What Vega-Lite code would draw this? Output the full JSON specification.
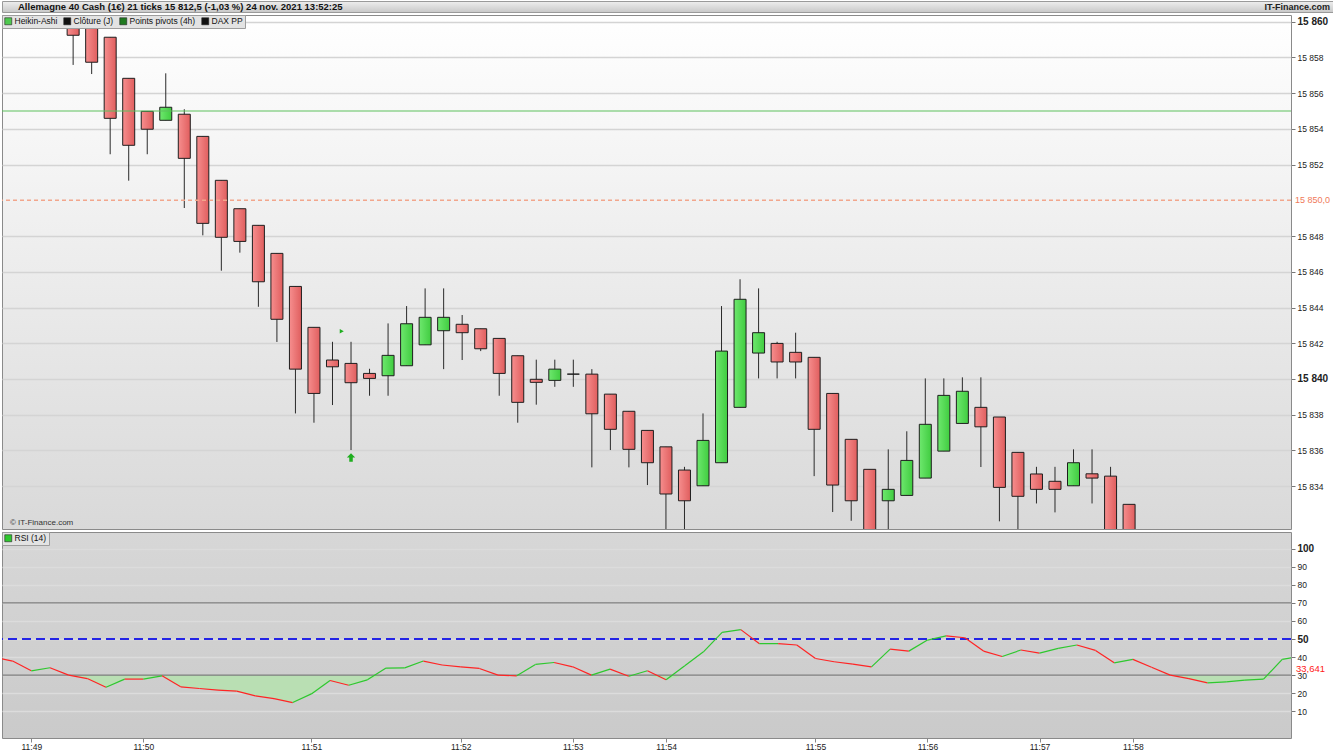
{
  "$schema": "https://vega.github.io/schema/vega-lite/v6.json",
  "padding": 0,
  "background": "#ffffff",
  "spacing": 1,
  "config": {
    "font": "Liberation Sans",
    "view": {"stroke": "#8a8a8a"},
    "legend": {
      "orient": "top-left",
      "direction": "horizontal",
      "fillColor": "#e3e3e3",
      "strokeColor": "#9d9d9d",
      "padding": 2,
      "offset": 0,
      "symbolType": "square",
      "symbolSize": 49,
      "symbolStrokeColor": "#222222",
      "symbolStrokeWidth": 0.6,
      "symbolOpacity": 1,
      "labelFontSize": 8.5,
      "labelColor": "#111111",
      "columnPadding": 4,
      "labelOffset": 2
    }
  },
  "resolve": {
    "scale": {"x": "independent", "y": "independent", "fill": "independent"},
    "legend": {"fill": "independent"}
  },
  "datasets": {
    "candles": [
      {"i": 0, "open": 15861.5, "close": 15861.0, "high": 15862.0, "low": 15859.6},
      {"i": 1, "open": 15861.2, "close": 15860.3, "high": 15861.8, "low": 15859.9},
      {"i": 2, "open": 15860.6, "close": 15859.24, "high": 15860.6, "low": 15857.58},
      {"i": 3, "open": 15859.9, "close": 15857.73, "high": 15859.9, "low": 15857.07},
      {"i": 4, "open": 15859.13, "close": 15854.59, "high": 15859.13, "low": 15852.58},
      {"i": 5, "open": 15856.83, "close": 15853.08, "high": 15856.83, "low": 15851.1},
      {"i": 6, "open": 15854.98, "close": 15853.98, "high": 15854.98, "low": 15852.58},
      {"i": 7, "open": 15854.48, "close": 15855.21, "high": 15857.11, "low": 15854.48},
      {"i": 8, "open": 15854.82, "close": 15852.35, "high": 15855.1, "low": 15849.57},
      {"i": 9, "open": 15853.58, "close": 15848.71, "high": 15853.58, "low": 15848.04},
      {"i": 10, "open": 15851.12, "close": 15847.93, "high": 15851.12, "low": 15846.06},
      {"i": 11, "open": 15849.53, "close": 15847.7, "high": 15849.53, "low": 15847.07},
      {"i": 12, "open": 15848.6, "close": 15845.44, "high": 15848.6, "low": 15844.04},
      {"i": 13, "open": 15847.03, "close": 15843.34, "high": 15847.03, "low": 15842.07},
      {"i": 14, "open": 15845.18, "close": 15840.55, "high": 15845.18, "low": 15838.07},
      {"i": 15, "open": 15842.89, "close": 15839.19, "high": 15842.89, "low": 15837.55},
      {"i": 16, "open": 15841.06, "close": 15840.68, "high": 15842.08, "low": 15838.54},
      {"i": 17, "open": 15840.87, "close": 15839.79, "high": 15842.08, "low": 15836.02},
      {"i": 18, "open": 15840.31, "close": 15840.03, "high": 15840.57, "low": 15839.06},
      {"i": 19, "open": 15840.18, "close": 15841.32, "high": 15843.11, "low": 15839.06},
      {"i": 20, "open": 15840.74, "close": 15843.09, "high": 15844.08, "low": 15840.74},
      {"i": 21, "open": 15841.91, "close": 15843.45, "high": 15845.07, "low": 15841.91},
      {"i": 22, "open": 15842.7, "close": 15843.45, "high": 15845.07, "low": 15840.55},
      {"i": 23, "open": 15843.06, "close": 15842.59, "high": 15843.58, "low": 15841.06},
      {"i": 24, "open": 15842.81, "close": 15841.69, "high": 15842.81, "low": 15841.56},
      {"i": 25, "open": 15842.27, "close": 15840.31, "high": 15842.27, "low": 15839.06},
      {"i": 26, "open": 15841.3, "close": 15838.69, "high": 15841.3, "low": 15837.55},
      {"i": 27, "open": 15839.98, "close": 15839.81, "high": 15841.08, "low": 15838.56},
      {"i": 28, "open": 15839.92, "close": 15840.55, "high": 15841.08, "low": 15839.56},
      {"i": 29, "open": 15840.27, "close": 15840.27, "high": 15841.08, "low": 15839.56},
      {"i": 30, "open": 15840.27, "close": 15838.05, "high": 15840.55, "low": 15835.05},
      {"i": 31, "open": 15839.15, "close": 15837.18, "high": 15839.15, "low": 15836.02},
      {"i": 32, "open": 15838.19, "close": 15836.06, "high": 15838.19, "low": 15835.05},
      {"i": 33, "open": 15837.12, "close": 15835.31, "high": 15837.12, "low": 15834.06},
      {"i": 34, "open": 15836.2, "close": 15833.56, "high": 15836.2, "low": 15831.3},
      {"i": 35, "open": 15834.9, "close": 15833.18, "high": 15835.08, "low": 15831.3},
      {"i": 36, "open": 15834.02, "close": 15836.56, "high": 15838.07, "low": 15834.02},
      {"i": 37, "open": 15835.31, "close": 15841.56, "high": 15844.08, "low": 15835.31},
      {"i": 38, "open": 15838.41, "close": 15844.46, "high": 15845.58, "low": 15838.41},
      {"i": 39, "open": 15841.45, "close": 15842.59, "high": 15845.07, "low": 15840.03},
      {"i": 40, "open": 15841.99, "close": 15840.95, "high": 15842.08, "low": 15840.03},
      {"i": 41, "open": 15841.49, "close": 15840.95, "high": 15842.59, "low": 15840.03},
      {"i": 42, "open": 15841.21, "close": 15837.18, "high": 15841.21, "low": 15834.56},
      {"i": 43, "open": 15839.19, "close": 15834.06, "high": 15839.19, "low": 15832.55},
      {"i": 44, "open": 15836.62, "close": 15833.18, "high": 15836.62, "low": 15832.06},
      {"i": 45, "open": 15834.94, "close": 15831.2, "high": 15834.94, "low": 15830.8},
      {"i": 46, "open": 15833.18, "close": 15833.82, "high": 15836.06, "low": 15831.3},
      {"i": 47, "open": 15833.48, "close": 15835.44, "high": 15837.07, "low": 15833.48},
      {"i": 48, "open": 15834.45, "close": 15837.46, "high": 15840.03, "low": 15834.45},
      {"i": 49, "open": 15835.96, "close": 15839.08, "high": 15840.03, "low": 15835.96},
      {"i": 50, "open": 15837.51, "close": 15839.31, "high": 15840.09, "low": 15837.51},
      {"i": 51, "open": 15838.41, "close": 15837.32, "high": 15840.09, "low": 15835.07},
      {"i": 52, "open": 15837.87, "close": 15833.93, "high": 15837.87, "low": 15832.03},
      {"i": 53, "open": 15835.89, "close": 15833.43, "high": 15835.89, "low": 15831.3},
      {"i": 54, "open": 15834.68, "close": 15833.82, "high": 15835.08, "low": 15833.03},
      {"i": 55, "open": 15834.27, "close": 15833.82, "high": 15835.08, "low": 15832.53},
      {"i": 56, "open": 15834.02, "close": 15835.31, "high": 15836.06, "low": 15834.02},
      {"i": 57, "open": 15834.69, "close": 15834.45, "high": 15836.06, "low": 15833.03},
      {"i": 58, "open": 15834.56, "close": 15830.5, "high": 15835.08, "low": 15829.0},
      {"i": 59, "open": 15832.98, "close": 15829.0, "high": 15832.98, "low": 15826.0}
    ],
    "rsi": [
      {"i": -2, "rsi": 39.8}, {"i": -1, "rsi": 37.8}, {"i": 0, "rsi": 32.4}, {"i": 1, "rsi": 34.1},
      {"i": 2, "rsi": 30.0}, {"i": 3, "rsi": 28.1}, {"i": 4, "rsi": 23.3}, {"i": 5, "rsi": 27.8},
      {"i": 6, "rsi": 27.8}, {"i": 7, "rsi": 29.6}, {"i": 8, "rsi": 23.5}, {"i": 9, "rsi": 22.6},
      {"i": 10, "rsi": 21.7}, {"i": 11, "rsi": 21.1}, {"i": 12, "rsi": 18.5}, {"i": 13, "rsi": 17.0},
      {"i": 14, "rsi": 14.8}, {"i": 15, "rsi": 19.6}, {"i": 16, "rsi": 27.0}, {"i": 17, "rsi": 24.4},
      {"i": 18, "rsi": 27.4}, {"i": 19, "rsi": 33.9}, {"i": 20, "rsi": 34.0}, {"i": 21, "rsi": 37.8},
      {"i": 22, "rsi": 35.6}, {"i": 23, "rsi": 34.6}, {"i": 24, "rsi": 33.7}, {"i": 25, "rsi": 30.0},
      {"i": 26, "rsi": 29.6}, {"i": 27, "rsi": 35.9}, {"i": 28, "rsi": 37.0}, {"i": 29, "rsi": 34.6},
      {"i": 30, "rsi": 30.0}, {"i": 31, "rsi": 33.3}, {"i": 32, "rsi": 29.4}, {"i": 33, "rsi": 32.4},
      {"i": 34, "rsi": 27.4}, {"i": 35, "rsi": 35.2}, {"i": 36, "rsi": 42.9}, {"i": 37, "rsi": 53.7},
      {"i": 38, "rsi": 55.2}, {"i": 39, "rsi": 47.4}, {"i": 40, "rsi": 47.5}, {"i": 41, "rsi": 46.7},
      {"i": 42, "rsi": 39.2}, {"i": 43, "rsi": 37.4}, {"i": 44, "rsi": 36.1}, {"i": 45, "rsi": 34.6},
      {"i": 46, "rsi": 44.4}, {"i": 47, "rsi": 43.3}, {"i": 48, "rsi": 49.4}, {"i": 49, "rsi": 51.7},
      {"i": 50, "rsi": 50.7}, {"i": 51, "rsi": 43.3}, {"i": 52, "rsi": 40.3}, {"i": 53, "rsi": 43.9},
      {"i": 54, "rsi": 42.2}, {"i": 55, "rsi": 44.8}, {"i": 56, "rsi": 46.7}, {"i": 57, "rsi": 43.7},
      {"i": 58, "rsi": 36.8}, {"i": 59, "rsi": 38.7}, {"i": 60, "rsi": 34.4}, {"i": 61, "rsi": 30.0},
      {"i": 62, "rsi": 28.1}, {"i": 63, "rsi": 25.7}, {"i": 64, "rsi": 26.3}, {"i": 65, "rsi": 27.2},
      {"i": 66, "rsi": 27.8}, {"i": 67, "rsi": 38.7}, {"i": 68, "rsi": 40.5}
    ]
  },
  "vconcat": [
    {
      "width": 1331,
      "height": 11,
      "view": {
        "fill": {"gradient": "linear", "x1": 0, "y1": 0, "x2": 0, "y2": 1,
          "stops": [{"offset": 0, "color": "#eeeeee"}, {"offset": 1, "color": "#c8c8c8"}]},
        "stroke": "#9a9a9a"
      },
      "layer": [
        {
          "data": {"values": [{"t": "Allemagne 40 Cash (1€) 21 ticks 15 812,5 (-1,03 %) 24 nov. 2021 13:52:25"}]},
          "mark": {"type": "text", "align": "left", "baseline": "middle", "dx": 16, "fontSize": 9.5, "fontWeight": "bold", "color": "#111111"},
          "encoding": {
            "x": {"datum": 0, "type": "quantitative", "scale": {"domain": [0, 1]}, "axis": null},
            "text": {"field": "t"}
          }
        },
        {
          "data": {"values": [{"t": "IT-Finance.com"}]},
          "mark": {"type": "text", "align": "right", "baseline": "middle", "dx": -3, "fontSize": 9, "fontWeight": "bold", "color": "#222222"},
          "encoding": {
            "x": {"datum": 1, "type": "quantitative", "scale": {"domain": [0, 1]}, "axis": null},
            "text": {"field": "t"}
          }
        }
      ]
    },
    {
      "width": 1289,
      "height": 514,
      "view": {
        "fill": {"gradient": "linear", "x1": 0, "y1": 0, "x2": 0, "y2": 1,
          "stops": [{"offset": 0, "color": "#ffffff"}, {"offset": 1, "color": "#d9d9d9"}]},
        "stroke": "#8a8a8a"
      },
      "resolve": {"scale": {"y": "independent"}},
      "layer": [
        {
          "data": {"name": "candles"},
          "mark": {"type": "rule", "color": "#2a2a2a", "strokeWidth": 1, "clip": true},
          "encoding": {
            "x": {"field": "i", "type": "quantitative", "scale": {"domain": [-1.57, 67.47], "nice": false, "zero": false}, "axis": null},
            "y": {
              "field": "low", "type": "quantitative", "title": null,
              "scale": {"domain": [15831.6, 15860.375], "nice": false, "zero": false},
              "axis": {
                "orient": "right",
                "values": [15834, 15836, 15838, 15840, 15842, 15844, 15846, 15848, 15852, 15854, 15856, 15858, 15860],
                "labelExpr": "replace(format(datum.value, ',d'), ',', ' ')",
                "labelFontSize": {"condition": {"test": "datum.value % 20 === 0", "value": 10}, "value": 8.5},
                "labelFontWeight": {"condition": {"test": "datum.value % 20 === 0", "value": "bold"}, "value": "normal"},
                "labelColor": "#222222",
                "labelPadding": 2,
                "labelOverlap": false,
                "tickSize": 4,
                "tickColor": "#777777",
                "domain": false,
                "grid": true,
                "gridColor": "#d4d4d4",
                "gridWidth": 1.5
              }
            },
            "y2": {"field": "high"}
          }
        },
        {
          "data": {"name": "candles"},
          "mark": {"type": "bar", "size": 12, "stroke": "#1e1e1e", "strokeWidth": 1, "clip": true},
          "encoding": {
            "x": {"field": "i", "type": "quantitative", "scale": {"domain": [-1.57, 67.47], "nice": false, "zero": false}, "axis": null},
            "y": {"field": "open", "type": "quantitative", "title": null, "scale": {"domain": [15831.6, 15860.375], "nice": false, "zero": false}, "axis": null},
            "y2": {"field": "close"},
            "fill": {
              "condition": {"test": "datum.close >= datum.open", "value": {"gradient": "linear", "x1": 0, "y1": 0, "x2": 1, "y2": 0, "stops": [{"offset": 0, "color": "#6ee86e"}, {"offset": 1, "color": "#40cc40"}]}},
              "value": {"gradient": "linear", "x1": 0, "y1": 0, "x2": 1, "y2": 0, "stops": [{"offset": 0, "color": "#f68e8e"}, {"offset": 1, "color": "#e05e5e"}]}
            }
          }
        },
        {
          "data": {"values": [{"level": 15855.0}]},
          "mark": {"type": "rule", "color": "#5cbf5c", "strokeWidth": 1.2},
          "encoding": {
            "y": {"field": "level", "type": "quantitative", "title": null, "scale": {"domain": [15831.6, 15860.375], "nice": false, "zero": false}, "axis": null}
          }
        },
        {
          "data": {"values": [{"level": 15850.0}]},
          "mark": {"type": "rule", "color": "#f2a68c", "strokeWidth": 1.5, "strokeDash": [4, 3]},
          "encoding": {
            "y": {"field": "level", "type": "quantitative", "title": null, "scale": {"domain": [15831.6, 15860.375], "nice": false, "zero": false}, "axis": null}
          }
        },
        {
          "data": {"values": [{"level": 15850.0, "label": "15 850,0"}]},
          "mark": {"type": "text", "align": "left", "baseline": "middle", "dx": 4, "fontSize": 9, "color": "#f07a5a"},
          "encoding": {
            "x": {"value": "width"},
            "y": {"field": "level", "type": "quantitative", "title": null, "scale": {"domain": [15831.6, 15860.375], "nice": false, "zero": false}, "axis": null},
            "text": {"field": "label"}
          }
        },
        {
          "data": {"values": [{"i": 17, "price": 15835.6}]},
          "mark": {"type": "point", "shape": "M0,-1L1,0L0.42,0L0.42,1L-0.42,1L-0.42,0L-1,0Z", "filled": true, "size": 70, "color": "#1fae1f", "opacity": 1},
          "encoding": {
            "x": {"field": "i", "type": "quantitative", "scale": {"domain": [-1.57, 67.47], "nice": false, "zero": false}, "axis": null},
            "y": {"field": "price", "type": "quantitative", "title": null, "scale": {"domain": [15831.6, 15860.375], "nice": false, "zero": false}, "axis": null}
          }
        },
        {
          "data": {"values": [{"i": 16.5, "price": 15842.67}]},
          "mark": {"type": "point", "shape": "triangle-right", "filled": true, "size": 22, "color": "#1fae1f", "opacity": 1},
          "encoding": {
            "x": {"field": "i", "type": "quantitative", "scale": {"domain": [-1.57, 67.47], "nice": false, "zero": false}, "axis": null},
            "y": {"field": "price", "type": "quantitative", "title": null, "scale": {"domain": [15831.6, 15860.375], "nice": false, "zero": false}, "axis": null}
          }
        },
        {
          "data": {"values": [{"t": "© IT-Finance.com"}]},
          "mark": {"type": "text", "align": "left", "baseline": "middle", "dx": 3, "fontSize": 8, "color": "#333333"},
          "encoding": {
            "x": {"datum": -1.57, "type": "quantitative", "scale": {"domain": [-1.57, 67.47], "nice": false, "zero": false}, "axis": null},
            "y": {"datum": 15831.93, "type": "quantitative", "title": null, "scale": {"domain": [15831.6, 15860.375], "nice": false, "zero": false}, "axis": null},
            "text": {"field": "t"}
          }
        },
        {
          "data": {"values": [{"s": "Heikin-Ashi"}, {"s": "Clôture (J)"}, {"s": "Points pivots (4h)"}, {"s": "DAX PP"}]},
          "mark": {"type": "point", "filled": true, "opacity": 0},
          "encoding": {
            "fill": {
              "field": "s", "type": "nominal",
              "scale": {"domain": ["Heikin-Ashi", "Clôture (J)", "Points pivots (4h)", "DAX PP"], "range": ["#4fc94f", "#111111", "#1f7a1f", "#111111"]},
              "legend": {"title": null}
            }
          }
        }
      ]
    },
    {
      "width": 1289,
      "height": 206,
      "view": {
        "fill": {"gradient": "linear", "x1": 0, "y1": 0, "x2": 0, "y2": 1,
          "stops": [{"offset": 0, "color": "#d7d7d7"}, {"offset": 1, "color": "#cacaca"}]},
        "stroke": "#8a8a8a"
      },
      "resolve": {"scale": {"y": "independent"}},
      "layer": [
        {
          "data": {"name": "rsi"},
          "mark": {"type": "area", "color": "#b9dfb3", "opacity": 1, "clip": true},
          "encoding": {
            "x": {"field": "i", "type": "quantitative", "scale": {"domain": [-1.57, 67.47], "nice": false, "zero": false}},
            "y": {
              "field": "rsi", "type": "quantitative", "title": null,
              "scale": {"domain": [-4.83, 30], "range": [206, 143.12], "clamp": true, "nice": false, "zero": false},
              "axis": null
            },
            "y2": {"datum": 30}
          }
        },
        {
          "data": {"values": [{"v": 70}, {"v": 30}]},
          "mark": {"type": "rule", "color": "#7c7c7c", "strokeWidth": 1.2},
          "encoding": {
            "y": {"field": "v", "type": "quantitative", "title": null, "scale": {"domain": [-4.83, 109.28], "nice": false, "zero": false}, "axis": null}
          }
        },
        {
          "data": {"values": [{"v": 50}]},
          "mark": {"type": "rule", "color": "#2424e6", "strokeWidth": 2, "strokeDash": [9, 5]},
          "encoding": {
            "y": {"field": "v", "type": "quantitative", "title": null, "scale": {"domain": [-4.83, 109.28], "nice": false, "zero": false}, "axis": null}
          }
        },
        {
          "data": {"name": "rsi"},
          "transform": [
            {"window": [{"op": "lead", "field": "rsi", "as": "rsi_next"}, {"op": "lead", "field": "i", "as": "i_next"}], "sort": [{"field": "i"}]},
            {"filter": "datum.rsi_next != null"}
          ],
          "mark": {"type": "rule", "strokeWidth": 1.2, "clip": true},
          "encoding": {
            "x": {
              "field": "i", "type": "quantitative", "title": null,
              "scale": {"domain": [-1.57, 67.47], "nice": false, "zero": false},
              "axis": {
                "values": [0, 6, 15, 23, 29, 34, 42, 48, 54, 59],
                "labelExpr": "['11:49','11:50','11:51','11:52','11:53','11:54','11:55','11:56','11:57','11:58'][indexof([0,6,15,23,29,34,42,48,54,59], datum.value)]",
                "labelFontSize": 8.5,
                "labelColor": "#222222",
                "labelPadding": 0,
                "tickSize": 4,
                "tickColor": "#888888",
                "domain": false,
                "grid": false
              }
            },
            "x2": {"field": "i_next"},
            "y": {
              "field": "rsi", "type": "quantitative", "title": null,
              "scale": {"domain": [-4.83, 109.28], "nice": false, "zero": false},
              "axis": {
                "orient": "right",
                "values": [10, 20, 30, 40, 50, 60, 70, 80, 90, 100],
                "labelFontSize": {"condition": {"test": "datum.value === 100 || datum.value === 50", "value": 10}, "value": 8.5},
                "labelFontWeight": {"condition": {"test": "datum.value === 100 || datum.value === 50", "value": "bold"}, "value": "normal"},
                "labelColor": "#222222",
                "labelPadding": 2,
                "labelOverlap": false,
                "tickSize": 4,
                "tickColor": "#777777",
                "domain": false,
                "grid": true,
                "gridColor": "#dcdcdc",
                "gridWidth": 1.5
              }
            },
            "y2": {"field": "rsi_next"},
            "color": {"condition": {"test": "datum.rsi_next > datum.rsi", "value": "#2ec82e"}, "value": "#ff2424"}
          }
        },
        {
          "data": {"values": [{"v": 33.641, "label": "33,641"}]},
          "mark": {"type": "text", "align": "left", "baseline": "middle", "dx": 5, "fontSize": 9.5, "color": "#ff2020"},
          "encoding": {
            "x": {"value": "width"},
            "y": {"field": "v", "type": "quantitative", "title": null, "scale": {"domain": [-4.83, 109.28], "nice": false, "zero": false}, "axis": null},
            "text": {"field": "label"}
          }
        },
        {
          "data": {"values": [{"s": "RSI (14)"}]},
          "mark": {"type": "point", "filled": true, "opacity": 0},
          "encoding": {
            "fill": {"field": "s", "type": "nominal", "scale": {"range": ["#2ec82e"]}, "legend": {"title": null}}
          }
        }
      ]
    }
  ]
}
